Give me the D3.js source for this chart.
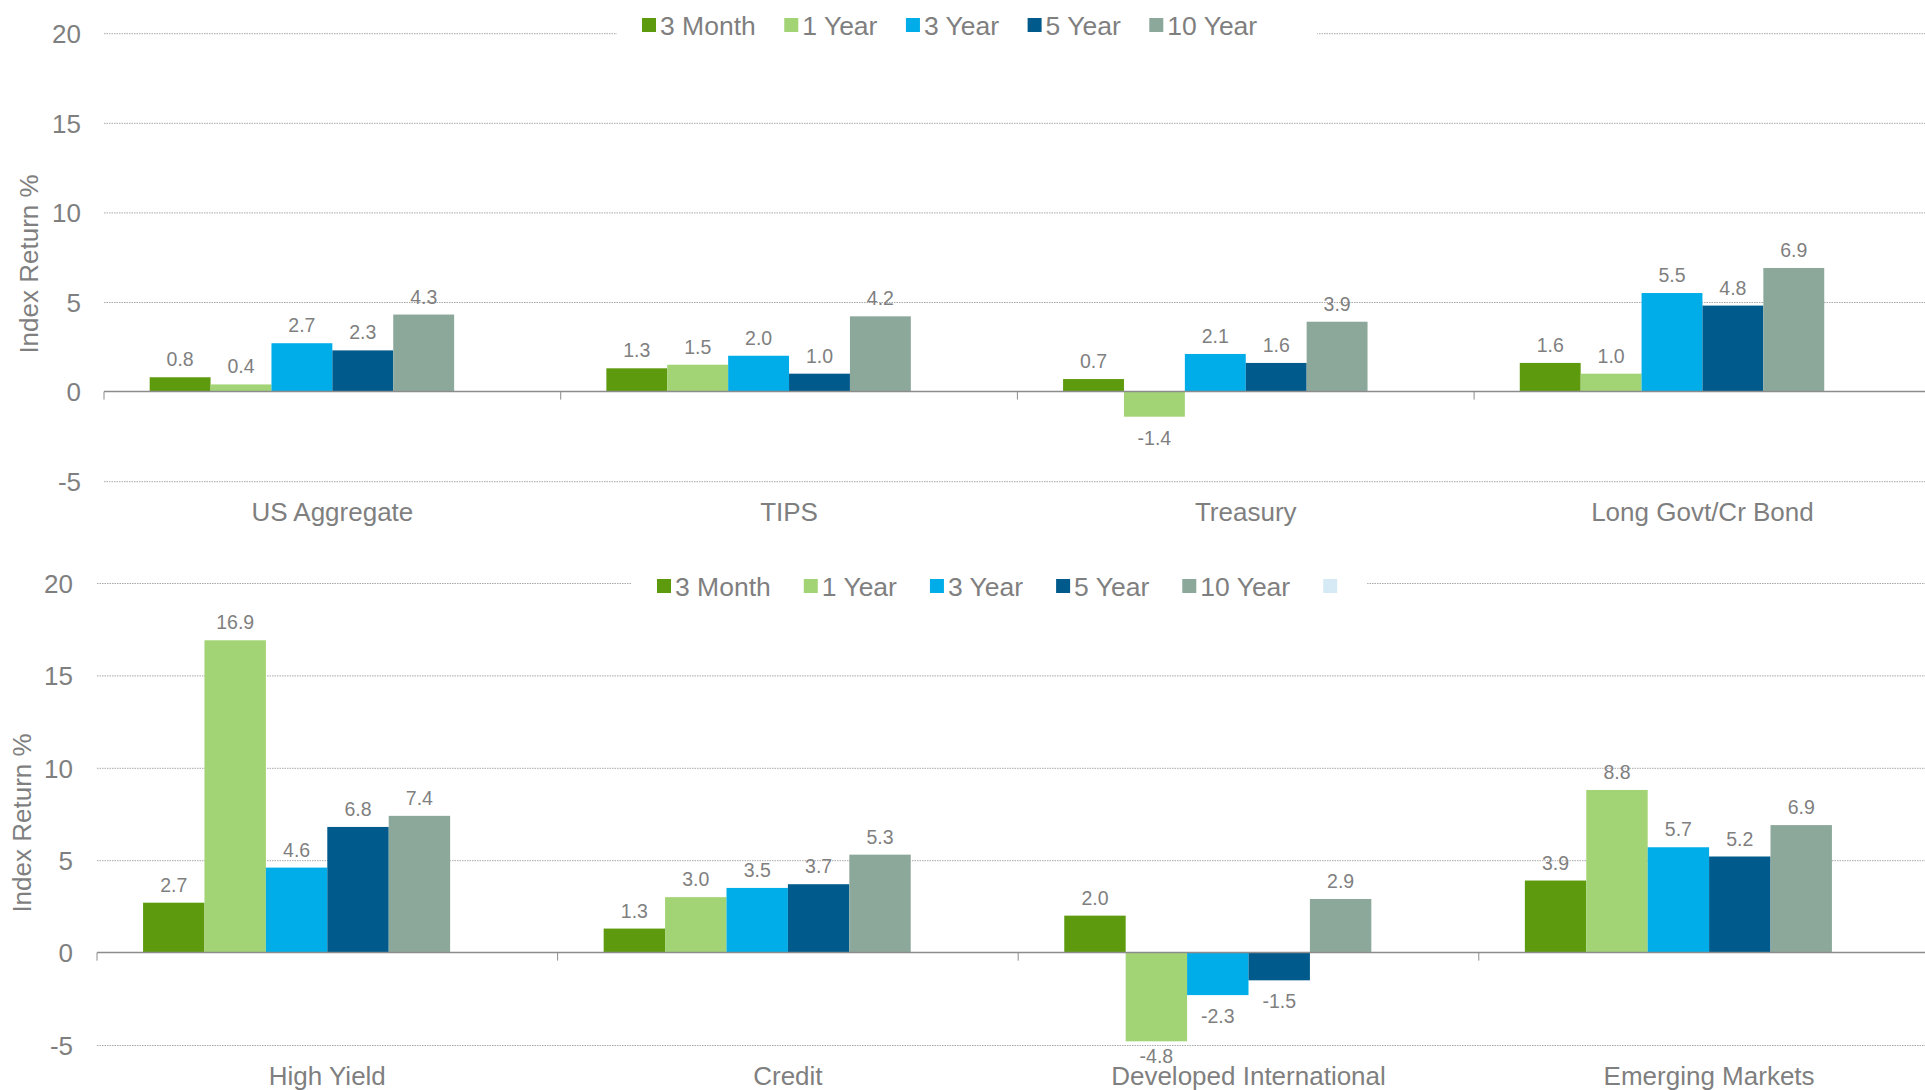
<!DOCTYPE html>
<html>
<head>
<meta charset="utf-8">
<script src="https://cdn.jsdelivr.net/npm/d3@7"></script>
<style>
  body { margin: 0; background: #fff; overflow: hidden; }
  text { font-family: "Liberation Sans", Arial, sans-serif; fill: #7f7f7f; }
</style>
</head>
<body>
<div id="chart"></div>
<script>
// series shared by both panels (6th slot is the empty series Excel kept)
const seriesNames = ["3 Month", "1 Year", "3 Year", "5 Year", "10 Year"];
const seriesColors = ["#5e9a0e", "#a2d374", "#00ade8", "#005a8c", "#8ca89b", "#d6eaf5"];
const yTicks = [-5, 0, 5, 10, 15, 20];

// top panel
const topCategories = ["US Aggregate", "TIPS", "Treasury", "Long Govt/Cr Bond"];
const top3Month = [0.8, 1.3, 0.7, 1.6];
const top1Year = [0.4, 1.5, -1.4, 1.0];
const top3Year = [2.7, 2.0, 2.1, 5.5];
const top5Year = [2.3, 1.0, 1.6, 4.8];
const top10Year = [4.3, 4.2, 3.9, 6.9];

// bottom panel
const bottomCategories = ["High Yield", "Credit", "Developed International", "Emerging Markets"];
const bottom3Month = [2.7, 1.3, 2.0, 3.9];
const bottom1Year = [16.9, 3.0, -4.8, 8.8];
const bottom3Year = [4.6, 3.5, -2.3, 5.7];
const bottom5Year = [6.8, 3.7, -1.5, 5.2];
const bottom10Year = [7.4, 5.3, 2.9, 6.9];

const W = 1925, H = 1090;

const svg = d3.select("#chart")
  .append("svg")
    .attr("width", W)
    .attr("height", H);

function drawPanel(cfg, categories, series, legendNames) {
  const g = svg.append("g");

  const x = d3.scaleBand()
    .domain(categories)
    .range([cfg.left, cfg.left + cfg.band * categories.length])
    .paddingInner(0.2)
    .paddingOuter(0.1);

  const xs = d3.scaleBand()
    .domain(d3.range(6))
    .range([0, x.bandwidth()]);

  const y = d3.scaleLinear()
    .domain([-5, 20])
    .range([cfg.bottom, cfg.top]);

  // gridlines + y tick labels
  const yAxis = g.append("g")
    .attr("transform", `translate(${cfg.left},0)`)
    .call(d3.axisLeft(y)
      .tickValues(yTicks)
      .tickFormat(d => String(d))
      .tickSize(-(W - cfg.left))
      .tickPadding(cfg.left - cfg.tickLabelX));
  yAxis.select(".domain").remove();
  yAxis.selectAll("line")
    .attr("stroke", d => d === 0 ? "none" : "#a9a9a9")
    .attr("stroke-width", 1)
    .attr("stroke-dasharray", "1.5,1");
  yAxis.selectAll("text")
    .attr("font-size", cfg.font)
    .attr("dy", "0.36em")
    .style("fill", "#7f7f7f");

  // y title
  g.append("text")
    .attr("transform", `translate(${cfg.titleX},${cfg.titleY}) rotate(-90)`)
    .attr("text-anchor", "middle")
    .attr("font-size", cfg.font)
    .text("Index Return %");

  // bars
  series.forEach((vals, i) => {
    g.selectAll(null)
      .data(vals.map((v, j) => ({cat: categories[j], v: v})))
      .enter()
      .append("rect")
        .attr("x", d => x(d.cat) + xs(i))
        .attr("y", d => y(Math.max(0, d.v)))
        .attr("width", xs.bandwidth())
        .attr("height", d => Math.abs(y(d.v) - y(0)))
        .attr("fill", seriesColors[i]);

    g.selectAll(null)
      .data(vals.map((v, j) => ({cat: categories[j], v: v})))
      .enter()
      .append("text")
        .attr("x", d => x(d.cat) + xs(i) + xs.bandwidth() / 2)
        .attr("y", d => d.v >= 0 ? y(d.v) - 11 : Math.min(y(d.v) + 28, cfg.bottom + 18))
        .attr("text-anchor", "middle")
        .attr("font-size", cfg.labelFont)
        .text(d => d.v.toFixed(1));
  });

  // zero axis line with category tick marks
  g.append("line")
    .attr("x1", cfg.left).attr("x2", W)
    .attr("y1", y(0)).attr("y2", y(0))
    .attr("stroke", "#8c8c8c")
    .attr("stroke-width", 1.5);

  g.selectAll(null)
    .data(categories.concat(["end"]))
    .enter()
    .append("line")
      .attr("x1", (d, i) => cfg.left + i * x.step())
      .attr("x2", (d, i) => cfg.left + i * x.step())
      .attr("y1", y(0))
      .attr("y2", y(0) + 8)
      .attr("stroke", "#8c8c8c")
      .attr("stroke-width", 1);

  // category labels
  g.selectAll(null)
    .data(categories)
    .enter()
    .append("text")
      .attr("x", d => x(d) + x.bandwidth() / 2)
      .attr("y", cfg.catLabelY)
      .attr("text-anchor", "middle")
      .attr("font-size", cfg.font)
      .text(d => d);

  // legend (white box breaks the top gridline)
  const leg = g.append("g");
  const bg = leg.append("rect")
    .attr("fill", "#fff");
  let lx = cfg.legendX, lastEnd = lx;
  legendNames.forEach((name, i) => {
    leg.append("rect")
      .attr("x", lx)
      .attr("y", cfg.legendY - cfg.swatch / 2)
      .attr("width", cfg.swatch)
      .attr("height", cfg.swatch)
      .attr("fill", seriesColors[i]);
    const t = leg.append("text")
      .attr("x", lx + cfg.swatch + 4)
      .attr("y", cfg.legendY)
      .attr("dy", "0.36em")
      .attr("font-size", cfg.legendFont)
      .text(name);
    const tw = t.node().getComputedTextLength();
    lastEnd = name ? lx + cfg.swatch + 4 + tw : lx + cfg.swatch;
    lx += cfg.swatch + 4 + tw + cfg.legendGap;
  });
  bg.attr("x", cfg.legendX - 25)
    .attr("y", cfg.legendY - 18)
    .attr("width", lastEnd + cfg.legendPadR - cfg.legendX + 25)
    .attr("height", 36);
}

drawPanel(
  {left: 104, band: 456.7, top: 33.2, bottom: 481.2, tickLabelX: 81,
   titleX: 38, titleY: 264, catLabelY: 521, font: 26, labelFont: 19.5,
   legendX: 642, legendY: 25, legendFont: 26.5, swatch: 14, legendGap: 28.5, legendPadR: 60},
  topCategories,
  [top3Month, top1Year, top3Year, top5Year, top10Year],
  seriesNames
);

drawPanel(
  {left: 97, band: 460.6, top: 583, bottom: 1045, tickLabelX: 73,
   titleX: 31, titleY: 823, catLabelY: 1085, font: 26, labelFont: 19.5,
   legendX: 657, legendY: 586, legendFont: 26.5, swatch: 14, legendGap: 33, legendPadR: 30},
  bottomCategories,
  [bottom3Month, bottom1Year, bottom3Year, bottom5Year, bottom10Year],
  seriesNames.concat([""])
);
</script>
</body>
</html>
